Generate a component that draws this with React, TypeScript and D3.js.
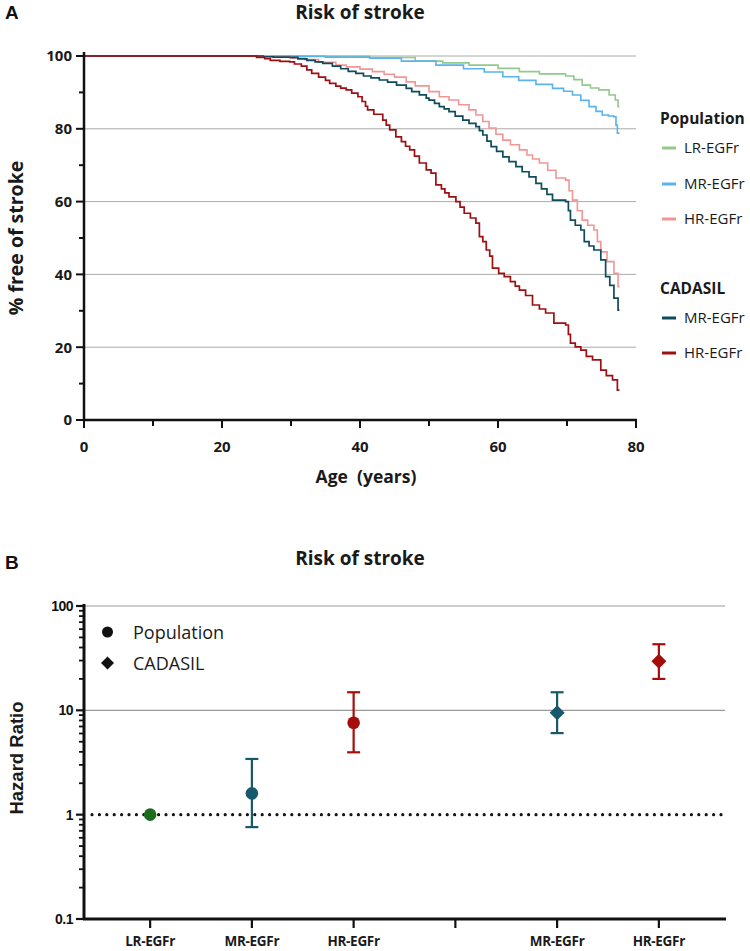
import React from "react";
import * as d3 from "d3";

// ---------- Panel A data: Kaplan-Meier style survival (age, % free of stroke) ----------
const popLR: [number, number][] = [
  [0, 100], [27, 100], [35, 99.9], [41.4, 99.6], [48, 98.6], [52, 98.1], [55.8, 97.5], [60, 96.6],
  [63.1, 95.7], [66, 95.1], [69.8, 94.5], [71, 93.5], [72.2, 92], [73.4, 91.2], [74.6, 90.7],
  [76.1, 89.3], [77, 87.9], [77.4, 86.1], [77.6, 86.1],
];
const popMR: [number, number][] = [
  [0, 100], [26, 100], [30, 99.9], [35, 99.7], [41.4, 99.4], [46, 98.6], [51, 97.5], [55, 96.5],
  [58, 95.6], [60.7, 94.3], [63, 93.3], [65.5, 92.2], [67.9, 91.1], [69.5, 90.3], [70.8, 89.3],
  [72, 87.8], [73.2, 86.1], [74.2, 84.8], [75.1, 83.8], [76, 83.5], [76.8, 83.3], [77.1, 81],
  [77.3, 78.8], [77.6, 78.8],
];
const popHR: [number, number][] = [
  [0, 100], [24, 100], [27, 99.8], [30, 99.4], [32, 99], [34, 98.3], [36.5, 97.5], [38, 97],
  [40, 96.4], [41.8, 95.7], [43.5, 95], [45, 94.2], [46.7, 92.9], [48, 91.8], [50, 90.2],
  [51.5, 88.8], [52.9, 87.9], [54.3, 86.6], [55.8, 85.2], [56.8, 83.8], [57.8, 82], [58.7, 80.2],
  [59.7, 78.5], [60.7, 76.9], [61.8, 75.6], [63.1, 74.2], [64.2, 72.8], [65, 71.7], [66, 70.6],
  [67.2, 68.6], [68.4, 66.5], [69.8, 65.9], [70.3, 63], [70.8, 60.4], [71.5, 57.5], [72.2, 54.9],
  [73, 53.5], [73.9, 52.2], [74.4, 49], [74.9, 46.2], [75.8, 43.5], [76.8, 40.3], [77.4, 36.6],
  [77.6, 36.6],
];
const cadMR: [number, number][] = [
  [0, 100], [25, 100], [26, 99.8], [27.4, 99.7], [29.8, 99.6], [31, 99.2], [32.3, 98.8],
  [33.5, 98.4], [34.6, 98], [36, 97.2], [37.2, 96.5], [38.3, 95.8], [39.4, 95.2], [40.5, 94.5],
  [41.6, 94], [42.8, 93.4], [44, 92.8], [45.3, 92], [46.7, 91.1], [47.5, 90.2], [48.6, 89.3],
  [49.6, 88.4], [50, 87.9], [50.8, 87], [51.5, 86.1], [52.2, 85.5], [52.9, 84.7], [53.8, 83.5],
  [54.9, 82.4], [55.8, 81.5], [56.8, 80.6], [57.3, 79.5], [57.8, 78.3], [58.4, 76.6], [59, 75.1],
  [59.8, 73.8], [60.7, 72.3], [61.6, 71], [62.6, 69.6], [63.5, 68.2], [64.5, 66.8], [65.5, 65],
  [66.3, 63.5], [67.1, 62], [67.9, 60.4], [69.8, 60], [70.2, 57.5], [70.5, 54.9], [71.2, 53.5],
  [72, 52.2], [72.5, 49], [73.2, 47.8], [73.9, 46.7], [74.9, 44], [75.6, 39.4], [76.2, 37],
  [76.8, 33.5], [77.4, 30.2], [77.6, 30.2],
];
const cadHR: [number, number][] = [
  [0, 100], [24, 100], [25, 99.6], [26.2, 99.3], [27, 98.8], [28.4, 98.5], [29.8, 98.4],
  [30.5, 97.8], [31.5, 97.2], [32.3, 96.2], [33, 95.2], [34, 94.2], [35, 93.3], [35.6, 92.5],
  [36.5, 91.7], [37.2, 91.2], [38, 90.7], [38.8, 89.8], [39.7, 88.8], [40.3, 87.5], [40.8, 86.2],
  [41.1, 85.2], [42, 84], [43.3, 82.4], [43.8, 81], [44.3, 79.7], [45.2, 77.8], [46, 76.5],
  [46.6, 75.2], [47.2, 74.2], [47.9, 72.5], [48.6, 70.6], [49.6, 68.7], [50.3, 67.8], [51, 64.6],
  [51.8, 63.5], [52.3, 62.4], [52.9, 61.3], [53.9, 60], [54.5, 58.5], [55.1, 56.8], [56, 55.5],
  [56.8, 54.1], [57.3, 50.4], [57.8, 49], [58.3, 46.7], [58.8, 45], [59.2, 41.7], [60.1, 40.3],
  [60.9, 39.4], [61.8, 38], [62.5, 36.8], [63.1, 35.7], [64, 34.2], [65, 31.6], [66, 30.5],
  [66.9, 29.4], [68.1, 26.6], [69.8, 26.1], [70.2, 23.5], [70.5, 21.1], [71.2, 20.1], [72, 19.2],
  [72.8, 17.5], [73.7, 16.5], [74.9, 13.7], [75.7, 12.2], [76.6, 11], [77.3, 8.2], [77.6, 8.2],
];

const ageTicks = [0, 20, 40, 60, 80];
const ageMinor = [10, 30, 50, 70];
const pctTicks = [0, 20, 40, 60, 80, 100];
const pctMinor = [10, 30, 50, 70, 90];

// ---------- Panel B data: hazard ratios ----------
const hrCategories = ["c1", "c2", "c3", "c4", "c5", "c6"];
const hrLabels = ["LR-EGFr", "MR-EGFr", "HR-EGFr", "", "MR-EGFr", "HR-EGFr"];
const hrPoints = [
  { cat: "c1", group: "Population", hr: 1, lo: null as number | null, hi: null as number | null, color: "#1d6b1d" },
  { cat: "c2", group: "Population", hr: 1.6, lo: 0.76, hi: 3.42, color: "#17586b" },
  { cat: "c3", group: "Population", hr: 7.6, lo: 3.96, hi: 14.9, color: "#a50d0d" },
  { cat: "c5", group: "CADASIL", hr: 9.5, lo: 6.05, hi: 14.9, color: "#17586b" },
  { cat: "c6", group: "CADASIL", hr: 29.5, lo: 20, hi: 43, color: "#a50d0d" },
];
const hrTicks = [0.1, 1, 10, 100];

const FONT = "'Open Sans', Lato, sans-serif";
const ARIAL = "'Liberation Sans', Arial, sans-serif";
const INK = "#1a1a1a";

export default function App() {
  // Panel A scales
  const xA = d3.scaleLinear().domain([0, 80]).range([84, 636]);
  const yA = d3.scaleLinear().domain([0, 100]).range([420, 56]);
  const line = d3
    .line<[number, number]>()
    .x((d) => xA(d[0]))
    .y((d) => yA(d[1]))
    .curve(d3.curveStepAfter);

  const seriesA = [
    { data: popLR, color: "#93c98c", w: 1.6 },
    { data: popMR, color: "#5ab3ec", w: 1.6 },
    { data: popHR, color: "#f29595", w: 1.6 },
    { data: cadMR, color: "#0e4b5c", w: 1.7 },
    { data: cadHR, color: "#9e0f12", w: 1.7 },
  ];

  // Panel B scales
  const xB = d3.scalePoint<string>().domain(hrCategories).range([84, 725]).padding(0.65);
  const yB = d3.scaleLog().domain([0.1, 100]).range([919, 606]);
  const minorB: number[] = [];
  [0.1, 1, 10].forEach((dec) => {
    for (let k = 2; k <= 9; k++) minorB.push(dec * k);
  });

  const legendA = [
    { title: "Population", y: 118 },
    { label: "LR-EGFr", color: "#93c98c", y: 148 },
    { label: "MR-EGFr", color: "#5ab3ec", y: 184 },
    { label: "HR-EGFr", color: "#f29595", y: 219 },
    { title: "CADASIL", y: 288 },
    { label: "MR-EGFr", color: "#0e4b5c", y: 318 },
    { label: "HR-EGFr", color: "#9e0f12", y: 353 },
  ];

  const diamond = (cx: number, cy: number, r: number) =>
    `M${cx},${cy - r}L${cx + r},${cy}L${cx},${cy + r}L${cx - r},${cy}Z`;

  return (
    <svg width={750} height={951} style={{ display: "block", position: "absolute", left: 0, top: 0, background: "#fff" }}>
      <rect width={750} height={951} fill="#fff" />
      {/* ================= Panel A ================= */}
      <text x={5} y={19} fontFamily={ARIAL} fontWeight="bold" fontSize={19} fill="#111">A</text>
      <text x={360} y={12} dy="0.35em" textAnchor="middle" fontFamily={FONT} fontWeight="bold" fontSize={19} fill={INK}>Risk of stroke</text>

      {/* gridlines */}
      {pctTicks.filter((t) => t > 0).map((t) => (
        <line key={"ga" + t} x1={xA(0)} x2={xA(80)} y1={yA(t)} y2={yA(t)} stroke="#aaa" strokeWidth={1} />
      ))}

      {/* curves */}
      {seriesA.map((s, i) => (
        <path key={"s" + i} d={line(s.data) || ""} fill="none" stroke={s.color} strokeWidth={s.w} />
      ))}

      {/* axes */}
      <line x1={84} x2={84} y1={52} y2={421} stroke="#111" strokeWidth={2.5} />
      <line x1={83} x2={637} y1={420} y2={420} stroke="#111" strokeWidth={2.5} />
      {pctTicks.map((t) => (
        <g key={"ya" + t}>
          <line x1={76} x2={84} y1={yA(t)} y2={yA(t)} stroke="#111" strokeWidth={2} />
          <text x={72} y={yA(t)} dy="0.36em" textAnchor="end" fontFamily={FONT} fontWeight="bold" fontSize={15} fill={INK}>{t}</text>
        </g>
      ))}
      {pctMinor.map((t) => (
        <line key={"yam" + t} x1={79} x2={84} y1={yA(t)} y2={yA(t)} stroke="#111" strokeWidth={2} />
      ))}
      {ageTicks.map((t) => (
        <g key={"xa" + t}>
          <line x1={xA(t)} x2={xA(t)} y1={420} y2={428} stroke="#111" strokeWidth={2} />
          <text x={xA(t)} y={447} dy="0.36em" textAnchor="middle" fontFamily={FONT} fontWeight="bold" fontSize={15} fill={INK}>{t}</text>
        </g>
      ))}
      {ageMinor.map((t) => (
        <line key={"xam" + t} x1={xA(t)} x2={xA(t)} y1={420} y2={426} stroke="#111" strokeWidth={2} />
      ))}
      <text x={366} y={477} dy="0.36em" textAnchor="middle" fontFamily={FONT} fontWeight="bold" fontSize={17.5} fill={INK} style={{ whiteSpace: "pre" }}>{"Age  (years)"}</text>
      <text transform={`translate(16,238) rotate(-90)`} dy="0.36em" textAnchor="middle" fontFamily={FONT} fontWeight="bold" fontSize={19.5} fill={INK}>% free of stroke</text>

      {/* legend A */}
      {legendA.map((l, i) =>
        l.title ? (
          <text key={"la" + i} x={660} y={l.y} dy="0.36em" fontFamily={FONT} fontWeight="bold" fontSize={15.5} fill={INK}>{l.title}</text>
        ) : (
          <g key={"la" + i}>
            <line x1={662} x2={676} y1={l.y} y2={l.y} stroke={l.color} strokeWidth={3} />
            <text x={684} y={l.y} dy="0.36em" fontFamily={FONT} fontSize={15} fill={INK}>{l.label}</text>
          </g>
        )
      )}

      {/* ================= Panel B ================= */}
      <text x={5} y={569} fontFamily={ARIAL} fontWeight="bold" fontSize={19} fill="#111">B</text>
      <text x={360} y={558} dy="0.36em" textAnchor="middle" fontFamily={FONT} fontWeight="bold" fontSize={19} fill={INK}>Risk of stroke</text>

      {[10, 100].map((t) => (
        <line key={"gb" + t} x1={84} x2={725} y1={yB(t)} y2={yB(t)} stroke="#999" strokeWidth={1.2} />
      ))}
      <line x1={92} x2={725} y1={yB(1)} y2={yB(1)} stroke="#111" strokeWidth={3.2} strokeDasharray="0 7.4" strokeLinecap="round" />

      {/* error bars & points */}
      {hrPoints.map((p, i) => {
        const cx = xB(p.cat) as number;
        const cy = yB(p.hr);
        return (
          <g key={"hp" + i}>
            {p.lo != null && p.hi != null && (
              <g stroke={p.color} strokeWidth={2.2}>
                <line x1={cx} x2={cx} y1={yB(p.lo)} y2={yB(p.hi)} />
                <line x1={cx - 6.5} x2={cx + 6.5} y1={yB(p.lo)} y2={yB(p.lo)} />
                <line x1={cx - 6.5} x2={cx + 6.5} y1={yB(p.hi)} y2={yB(p.hi)} />
              </g>
            )}
            {p.group === "Population" ? (
              <circle cx={cx} cy={cy} r={6.3} fill={p.color} />
            ) : (
              <path d={diamond(cx, cy, 7.5)} fill={p.color} />
            )}
          </g>
        );
      })}

      {/* axes B */}
      <line x1={84} x2={84} y1={604} y2={920} stroke="#111" strokeWidth={3} />
      <line x1={83} x2={726} y1={919} y2={919} stroke="#111" strokeWidth={3} />
      {hrTicks.map((t) => (
        <g key={"yb" + t}>
          <line x1={76} x2={84} y1={yB(t)} y2={yB(t)} stroke="#111" strokeWidth={2.2} />
          <text x={73} y={yB(t)} dy="0.36em" textAnchor="end" fontFamily={ARIAL} fontWeight="bold" fontSize={14} fill="#111" letterSpacing={-0.5}>{t}</text>
        </g>
      ))}
      {minorB.map((t, i) => (
        <line key={"ybm" + i} x1={79} x2={84} y1={yB(t)} y2={yB(t)} stroke="#111" strokeWidth={1.8} />
      ))}
      {hrCategories.map((c, i) => (
        <g key={"xb" + c}>
          <line x1={xB(c) as number} x2={xB(c) as number} y1={919} y2={928} stroke="#111" strokeWidth={2.2} />
          <text x={xB(c) as number} y={941} dy="0.36em" textAnchor="middle" fontFamily={FONT} fontWeight="bold" fontSize={13.5} fill={INK} letterSpacing={-0.3}>{hrLabels[i]}</text>
        </g>
      ))}
      <text transform={`translate(16,758) rotate(-90)`} dy="0.36em" textAnchor="middle" fontFamily={ARIAL} fontWeight="bold" fontSize={18.5} fill={INK}>Hazard Ratio</text>

      {/* legend B */}
      <circle cx={107.5} cy={632} r={5.5} fill="#111" />
      <text x={133} y={633} dy="0.36em" fontFamily={FONT} fontSize={18} fill={INK}>Population</text>
      <path d={diamond(107.5, 663, 6.5)} fill="#111" />
      <text x={133} y={664} dy="0.36em" fontFamily={FONT} fontSize={18} fill={INK}>CADASIL</text>
    </svg>
  );
}
